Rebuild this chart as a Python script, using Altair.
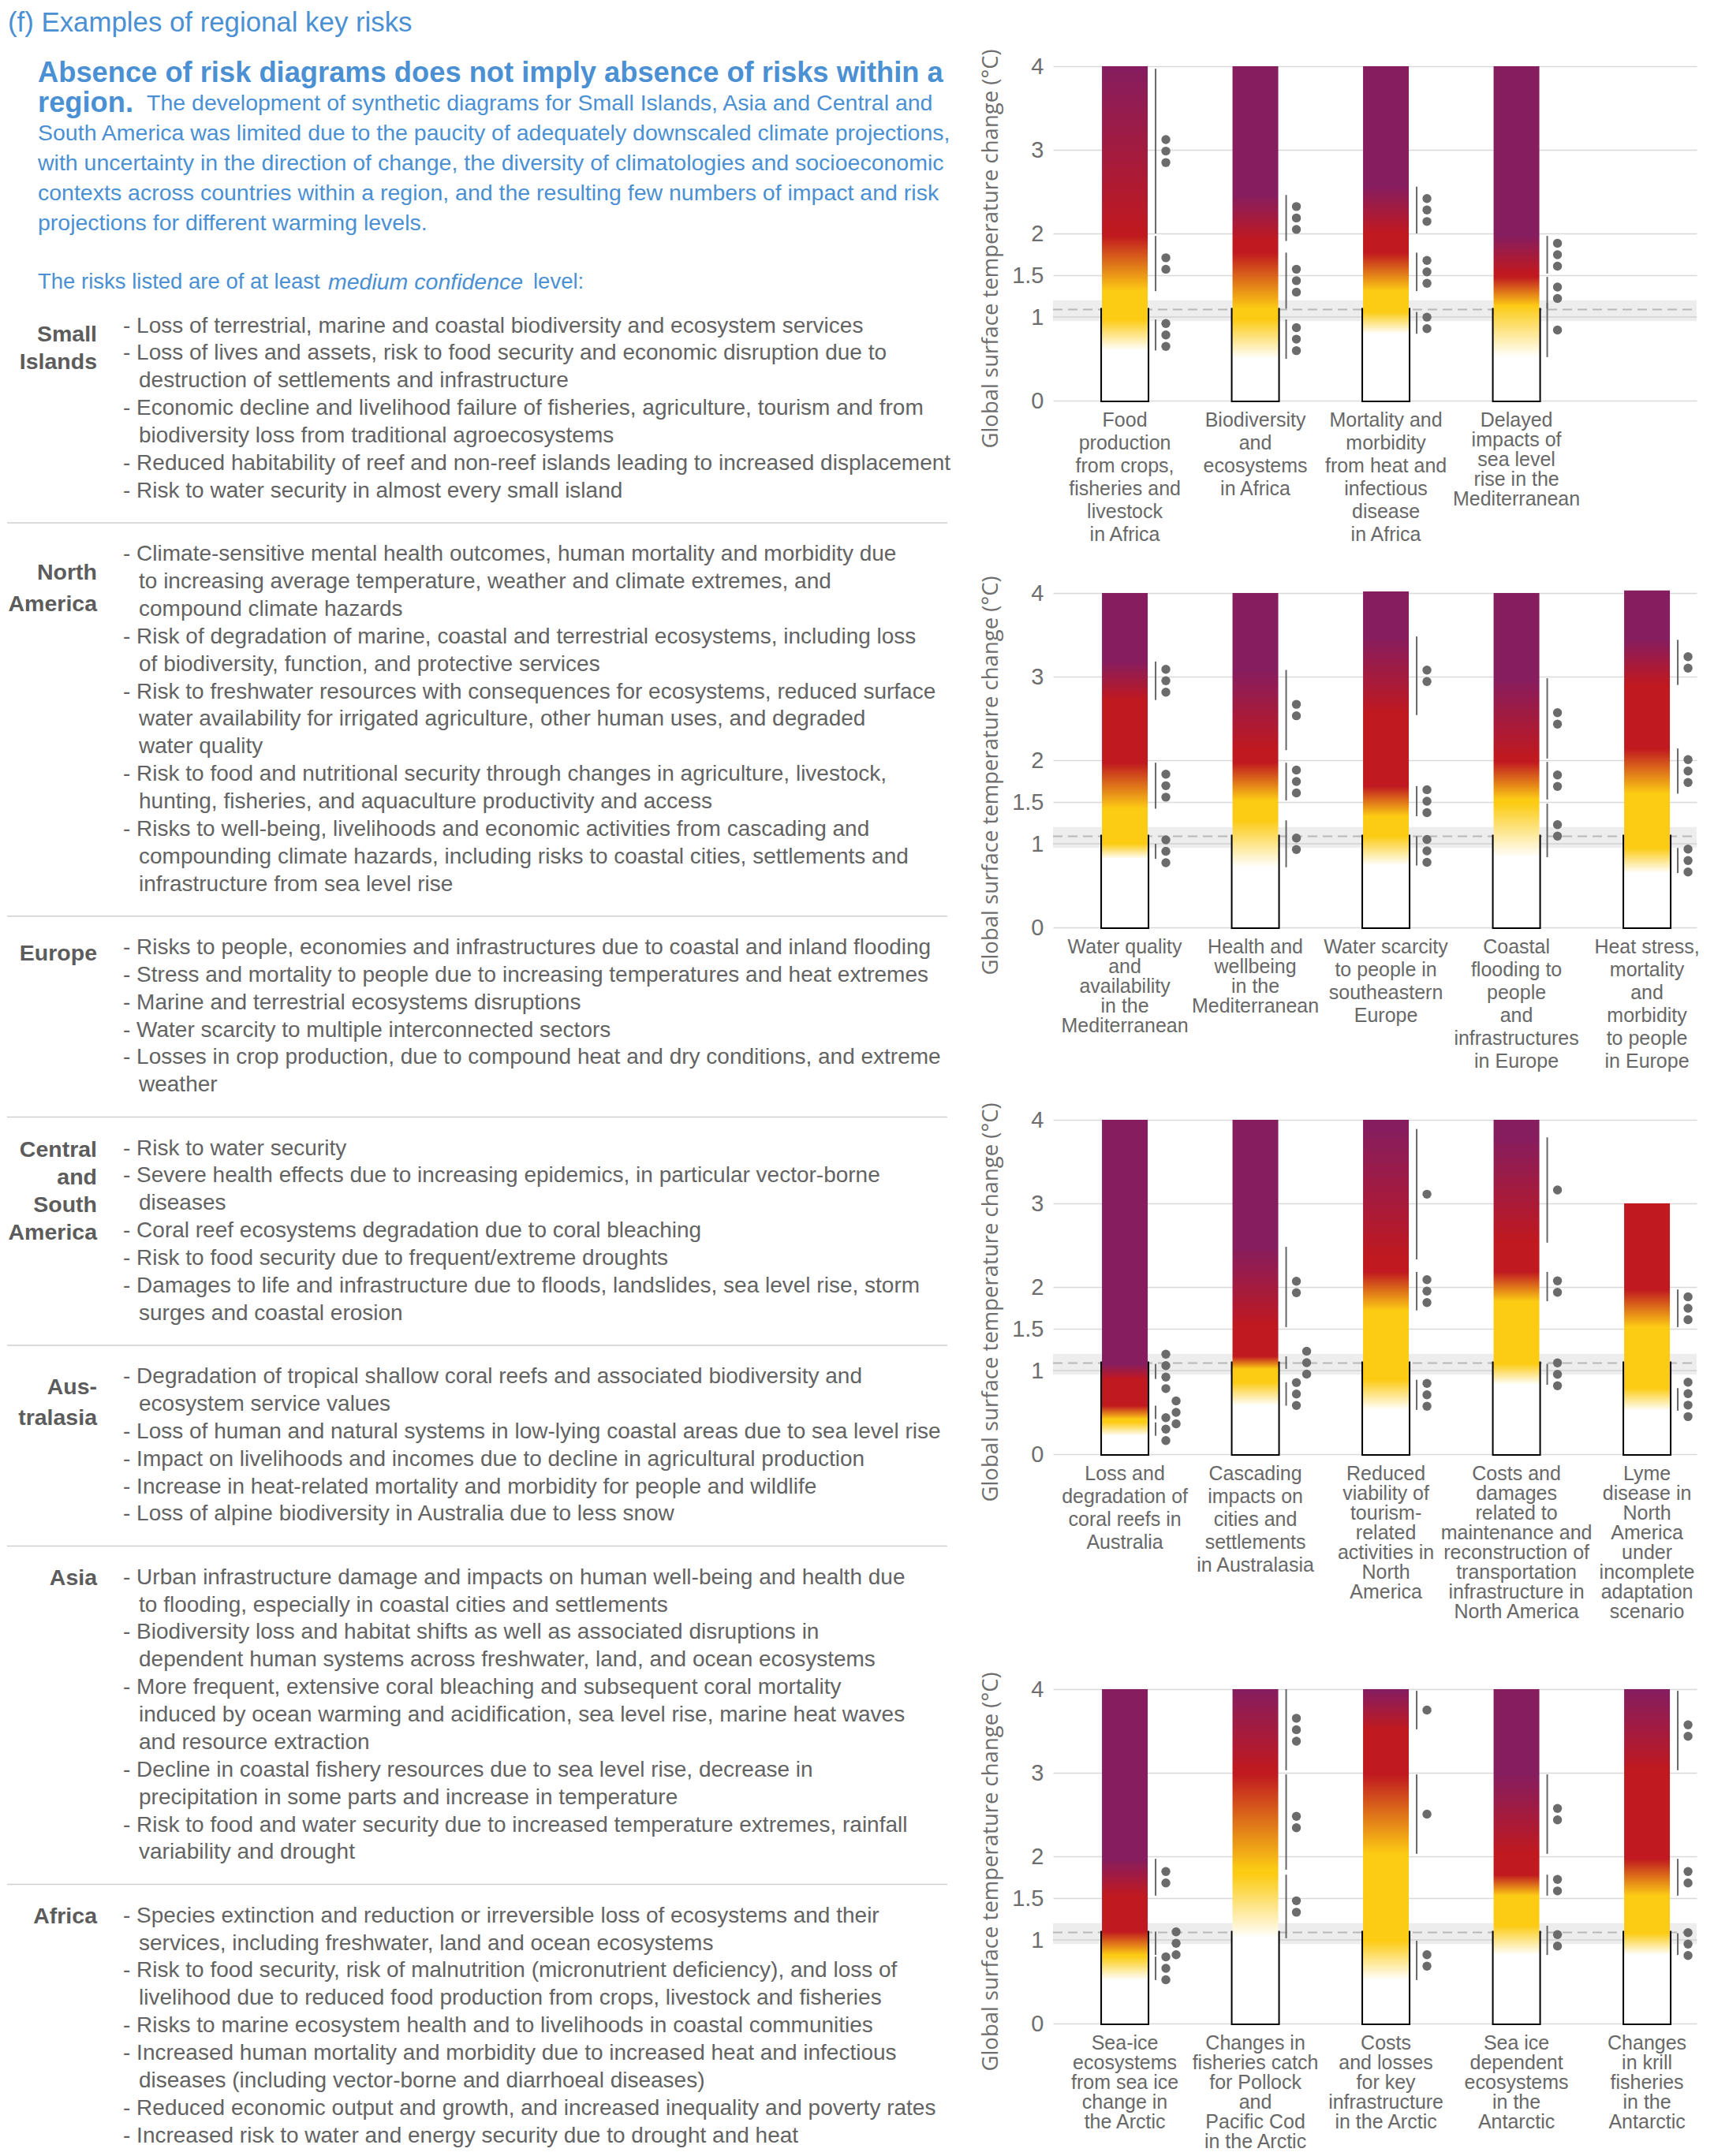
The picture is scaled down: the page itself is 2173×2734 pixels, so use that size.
import altair as alt
import pandas as pd

# ---------------- fonts / colours ----------------
SANS = "'Liberation Sans', Arial, sans-serif"
WIDE = "'Open Sans', 'Noto Sans', sans-serif"
BLUE = "#4a90d2"
TXT = "#636363"
LBL = "#5c5c5c"
WHITE, YELLOW, RED, PURPLE = "#ffffff", "#fccb14", "#c0191f", "#861d5f"

# ---------------- left panel text ----------------
title_text = "(f) Examples of regional key risks"
para_bold_1 = "Absence of risk diagrams does not imply absence of risks within a"
para_bold_2 = "region."
para_lines = [
    "The development of synthetic diagrams for Small Islands, Asia and Central and",
    "South America was limited due to the paucity of adequately downscaled climate projections,",
    "with uncertainty in the direction of change, the diversity of climatologies and socioeconomic",
    "contexts across countries within a region, and the resulting few numbers of impact and risk",
    "projections for different warming levels.",
]
conf_parts = ["The risks listed are of at least", "medium confidence", "level:"]

region_names = ["Small\nIslands", "North\nAmerica", "Europe", "Central\nand\nSouth\nAmerica",
                "Aus-\ntralasia", "Asia", "Africa"]

items_small_islands = [
    ["Loss of terrestrial, marine and coastal biodiversity and ecosystem services"],
    ["Loss of lives and assets, risk to food security and economic disruption due to",
     "destruction of settlements and infrastructure"],
    ["Economic decline and livelihood failure of fisheries, agriculture, tourism and from",
     "biodiversity loss from traditional agroecosystems"],
    ["Reduced habitability of reef and non-reef islands leading to increased displacement"],
    ["Risk to water security in almost every small island"],
]
items_north_america = [
    ["Climate-sensitive mental health outcomes, human mortality and morbidity due",
     "to increasing average temperature, weather and climate extremes, and",
     "compound climate hazards"],
    ["Risk of degradation of marine, coastal and terrestrial ecosystems, including loss",
     "of biodiversity, function, and protective services"],
    ["Risk to freshwater resources with consequences for ecosystems, reduced surface",
     "water availability for irrigated agriculture, other human uses, and degraded",
     "water quality"],
    ["Risk to food and nutritional security through changes in agriculture, livestock,",
     "hunting, fisheries, and aquaculture productivity and access"],
    ["Risks to well-being, livelihoods and economic activities from cascading and",
     "compounding climate hazards, including risks to coastal cities, settlements and",
     "infrastructure from sea level rise"],
]
items_europe = [
    ["Risks to people, economies and infrastructures due to coastal and inland flooding"],
    ["Stress and mortality to people due to increasing temperatures and heat extremes"],
    ["Marine and terrestrial ecosystems disruptions"],
    ["Water scarcity to multiple interconnected sectors"],
    ["Losses in crop production, due to compound heat and dry conditions, and extreme",
     "weather"],
]
items_csa = [
    ["Risk to water security"],
    ["Severe health effects due to increasing epidemics, in particular vector-borne",
     "diseases"],
    ["Coral reef ecosystems degradation due to coral bleaching"],
    ["Risk to food security due to frequent/extreme droughts"],
    ["Damages to life and infrastructure due to floods, landslides, sea level rise, storm",
     "surges and coastal erosion"],
]
items_australasia = [
    ["Degradation of tropical shallow coral reefs and associated biodiversity and",
     "ecosystem service values"],
    ["Loss of human and natural systems in low-lying coastal areas due to sea level rise"],
    ["Impact on livelihoods and incomes due to decline in agricultural production"],
    ["Increase in heat-related mortality and morbidity for people and wildlife"],
    ["Loss of alpine biodiversity in Australia due to less snow"],
]
items_asia = [
    ["Urban infrastructure damage and impacts on human well-being and health due",
     "to flooding, especially in coastal cities and settlements"],
    ["Biodiversity loss and habitat shifts as well as associated disruptions in",
     "dependent human systems across freshwater, land, and ocean ecosystems"],
    ["More frequent, extensive coral bleaching and subsequent coral mortality",
     "induced by ocean warming and acidification, sea level rise, marine heat waves",
     "and resource extraction"],
    ["Decline in coastal fishery resources due to sea level rise, decrease in",
     "precipitation in some parts and increase in temperature"],
    ["Risk to food and water security due to increased temperature extremes, rainfall",
     "variability and drought"],
]
items_africa = [
    ["Species extinction and reduction or irreversible loss of ecosystems and their",
     "services, including freshwater, land and ocean ecosystems"],
    ["Risk to food security, risk of malnutrition (micronutrient deficiency), and loss of",
     "livelihood due to reduced food production from crops, livestock and fisheries"],
    ["Risks to marine ecosystem health and to livelihoods in coastal communities"],
    ["Increased human mortality and morbidity due to increased heat and infectious",
     "diseases (including vector-borne and diarrhoeal diseases)"],
    ["Reduced economic output and growth, and increased inequality and poverty rates"],
    ["Increased risk to water and energy security due to drought and heat"],
]
region_items = [items_small_islands, items_north_america, items_europe, items_csa,
                items_australasia, items_asia, items_africa]

# ---------------- ember data ----------------
band_low, band_high, current_warming = 0.95, 1.20, 1.09
y_ticks = [0, 1, 1.5, 2, 3, 4]

r1_labels = ["Food\nproduction\nfrom crops,\nfisheries and\nlivestock\nin Africa",
             "Biodiversity\nand\necosystems\nin Africa",
             "Mortality and\nmorbidity\nfrom heat and\ninfectious\ndisease\nin Africa",
             "Delayed\nimpacts of\nsea level\nrise in the\nMediterranean"]
r1_tops = [4, 4, 4, 4]
r1_wy = [(0.60, 0.97, 3), (0.50, 0.97, 3), (0.80, 1.06, 2), (0.52, 1.17, 1)]
r1_yr = [(1.31, 1.97, 2), (1.10, 1.77, 3), (1.31, 1.77, 3), (1.10, 1.48, 2)]
r1_rp = [(2.00, 3.97, 3), (1.91, 2.46, 3), (2.00, 2.56, 3), (1.52, 1.97, 3)]

r2_labels = ["Water quality\nand\navailability\nin the\nMediterranean",
             "Health and\nwellbeing\nin the\nMediterranean",
             "Water scarcity\nto people in\nsoutheastern\nEurope",
             "Coastal\nflooding to\npeople\nand\ninfrastructures\nin Europe",
             "Heat stress,\nmortality\nand\nmorbidity\nto people\nin Europe"]
r2_tops = [4, 4, 4.02, 4, 4.03]
r2_wy = [(0.82, 1.00, 3), (0.72, 1.28, 2), (0.74, 1.09, 3), (0.84, 1.48, 2), (0.65, 0.95, 3)]
r2_yr = [(1.42, 1.97, 3), (1.52, 1.97, 3), (1.33, 1.69, 3), (1.53, 1.98, 2), (1.60, 2.14, 3)]
r2_rp = [(2.72, 3.18, 3), (2.12, 3.08, 2), (2.54, 3.48, 2), (2.02, 2.98, 2), (2.90, 3.44, 2)]

r3_labels = ["Loss and\ndegradation of\ncoral reefs in\nAustralia",
             "Cascading\nimpacts on\ncities and\nsettlements\nin Australasia",
             "Reduced\nviability of\ntourism-\nrelated\nactivities in\nNorth\nAmerica",
             "Costs and\ndamages\nrelated to\nmaintenance and\nreconstruction of\ntransportation\ninfrastructure in\nNorth America",
             "Lyme\ndisease in\nNorth\nAmerica\nunder\nincomplete\nadaptation\nscenario"]
r3_tops = [4, 4, 4, 4, 3]
r3_wy = [(0.22, 0.38, 3), (0.58, 0.86, 3), (0.53, 0.89, 3), (0.83, 1.08, 3), (0.52, 0.79, 4)]
r3_yr = [(0.42, 0.58, 3), (1.02, 1.17, 3), (1.72, 2.18, 3), (1.83, 2.18, 2), (1.52, 1.97, 3)]
r3_rp = [(0.90, 1.08, 4), (1.52, 2.48, 2), (2.33, 3.89, 1), (2.53, 3.79, 1), None]

r4_labels = ["Sea-ice\necosystems\nfrom sea ice\nchange in\nthe Arctic",
             "Changes in\nfisheries catch\nfor Pollock\nand\nPacific Cod\nin the Arctic",
             "Costs\nand losses\nfor key\ninfrastructure\nin the Arctic",
             "Sea ice\ndependent\necosystems\nin the\nAntarctic",
             "Changes\nin krill\nfisheries\nin the\nAntarctic"]
r4_tops = [4, 4, 4, 4, 4]
r4_wy = [(0.52, 0.80, 3), (1.02, 1.78, 2), (0.52, 0.99, 2), (0.82, 1.17, 2), (0.82, 1.08, 3)]
r4_yr = [(0.82, 1.10, 3), (1.84, 2.98, 2), (2.03, 2.98, 1), (1.53, 1.78, 2), (1.53, 1.97, 2)]
r4_rp = [(1.53, 1.97, 2), (3.03, 4.00, 3), (3.52, 3.98, 1), (2.03, 2.98, 2), (3.03, 3.98, 2)]

# ---------------- layout / style (not data) ----------------
ROW_W, ROW_H = 816, 424
PX_PER_DEG = ROW_H / 4
ROW_SPACING = 244
ROW_EXTRA_TOP = [0, 0, 0, 54]          # extra room above the 4 °C line (px)
BAR_W = 58
LINE_DX, DOT_DX0, DOT_DX1 = 39, 52, 65
DOT_STEP = 0.137
X_DOMAIN = [-0.52, 4.35]
tight_rows = [[False, False, False, True],
              [True, True, False, False, False],
              [False, False, True, True, True],
              [True, True, True, True, True]]
second_dot_column = {(3, 0, "yr"), (3, 1, "yr"), (4, 0, "yr")}

LEFT_W, LEFT_H = 1200, 2481
LINE_PX = 34.88
POS_TOP = -9.45
POS_BOTTOM = POS_TOP + LEFT_H / LINE_PX
SECTION_GAP = 1.3
TOP_PAD = 4
label_offset = [0.3, 0.65, 0.2, 0.05, 0.36, 0.0, 0.0]
label_step = [1.0, 1.15, 1.0, 1.0, 1.14, 1.0, 1.0]


# ---------------- left chart ----------------
ysc_left = alt.Scale(domain=[POS_TOP, POS_BOTTOM], reverse=True, nice=False, zero=False)


def ytext():
    return alt.Y("pos:Q", scale=ysc_left, axis=None)


def text_layer(df, x, size, color, weight="normal", style="normal", align="left", font=SANS):
    return alt.Chart(df).mark_text(
        align=align, baseline="middle", font=font, fontSize=size, color=color,
        fontWeight=weight, fontStyle=style
    ).encode(x=alt.value(x), y=ytext(), text="text:N")


first_rows, cont_rows, label_rows, sep_rows = [], [], [], []
line_idx = 0
for k, items in enumerate(region_items):
    start = line_idx + SECTION_GAP * k
    for j, nm in enumerate(region_names[k].split("\n")):
        label_rows.append({"text": nm, "pos": start + label_offset[k] + j * label_step[k]})
    for item in items:
        for j, ln in enumerate(item):
            p = line_idx + SECTION_GAP * k
            if j == 0:
                first_rows.append({"text": "- " + ln, "pos": p})
            else:
                cont_rows.append({"text": ln, "pos": p})
            line_idx += 1
    if k < len(region_items) - 1:
        sep_rows.append({"pos": line_idx - 1 + SECTION_GAP * k + 1.15})

para_pos = [-8.1 + 1.09 * i for i in range(5)]
df_title = pd.DataFrame({"text": [title_text], "pos": [-11.1 + TOP_PAD / LINE_PX]})
df_b1 = pd.DataFrame({"text": [para_bold_1], "pos": [-9.2]})
df_b2 = pd.DataFrame({"text": [para_bold_2], "pos": [para_pos[0]]})
df_p_first = pd.DataFrame({"text": [para_lines[0]], "pos": [para_pos[0]]})
df_p_rest = pd.DataFrame({"text": para_lines[1:], "pos": para_pos[1:]})
df_c1 = pd.DataFrame({"text": [conf_parts[0]], "pos": [-1.6]})
df_c2 = pd.DataFrame({"text": [conf_parts[1]], "pos": [-1.6]})
df_c3 = pd.DataFrame({"text": [conf_parts[2]], "pos": [-1.6]})

left_layers = [
    alt.Chart(pd.DataFrame(sep_rows)).mark_rule(color="#cfcfcf", strokeWidth=1.5).encode(
        y=ytext(), x=alt.value(0), x2=alt.value(1192)),
    text_layer(df_title, 1, 34.8, BLUE),
    text_layer(df_b1, 39, 36.3, BLUE, weight="bold"),
    text_layer(df_b2, 39, 36.3, BLUE, weight="bold"),
    text_layer(df_p_first, 177, 28.5, BLUE),
    text_layer(df_p_rest, 39, 28.5, BLUE),
    text_layer(df_c1, 39, 27.5, BLUE),
    text_layer(df_c2, 407, 28.5, BLUE, style="italic"),
    text_layer(df_c3, 667, 27.5, BLUE),
    text_layer(pd.DataFrame(label_rows), 114, 28.5, LBL, weight="bold", align="right"),
    text_layer(pd.DataFrame(first_rows), 147, 28, TXT),
    text_layer(pd.DataFrame(cont_rows), 167, 28, TXT),
]
left = alt.layer(*left_layers).properties(width=LEFT_W, height=LEFT_H)


# ---------------- ember rows ----------------
xsc = alt.Scale(domain=X_DOMAIN, nice=False, zero=False)


def X():
    return alt.X("idx:Q", scale=xsc, axis=None)


def make_y(extra_px):
    top = 4 + extra_px / PX_PER_DEG
    sc = alt.Scale(domain=[0, top], nice=False, zero=False)
    ax = alt.Axis(values=y_ticks, format=".1~f", grid=True, gridColor="#d9d9d9", gridWidth=1.5,
                  domain=False, ticks=False, labelFont=SANS, labelFontSize=29,
                  labelColor="#6e6e6e", labelPadding=12,
                  title="Global surface temperature change (°C)", titleFont=WIDE,
                  titleFontSize=27.5, titleFontWeight="normal", titleColor="#6e6e6e",
                  titlePadding=12, titleY=extra_px + ROW_H / 2 + 19)

    def Yq(field):
        return alt.Y(field, type="quantitative", scale=sc, axis=ax)
    return Yq


def gradient_for(top, trans):
    cols = [(WHITE, YELLOW), (YELLOW, RED), (RED, PURPLE)]
    segs = [[t[0], t[1], c[0], c[1]] for t, c in zip(trans, cols) if t is not None]
    for a, b in zip(segs, segs[1:]):
        if b[0] < a[1]:
            m = (a[1] + b[0]) / 2
            a[1] = m
            b[0] = m
    stops = [(0.0, WHITE)]
    for s, e, c0, c1 in segs:
        stops.append((s / top, c0))
        stops.append((e / top, c1))
    stops.append((1.0, segs[-1][3]))
    out, last = [], 0.0
    for off, c in stops:
        off = min(1.0, max(last, off))
        last = off
        out.append(alt.GradientStop(offset=off, color=c))
    return alt.Gradient(gradient="linear", stops=out, x1=0, x2=0, y1=1, y2=0)


def build_row(rownum, labels, tops, wy, yr, rp):
    n = len(labels)
    extra = ROW_EXTRA_TOP[rownum - 1]
    height = ROW_H + extra
    Yq = make_y(extra)
    tight = tight_rows[rownum - 1]
    bars = pd.DataFrame({"idx": list(range(n)), "zero": [0.0] * n, "top": tops,
                         "now": [current_warming] * n, "label": labels, "tight": tight})
    trans_rows, dot_rows = [], []
    for i in range(n):
        for kind, t in (("wy", wy[i]), ("yr", yr[i]), ("rp", rp[i])):
            if t is None:
                continue
            s, e, cnt = t
            trans_rows.append({"idx": i, "start": s, "end": e})
            col = 1 if (rownum, i, kind) in second_dot_column else 0
            mid = (s + e) / 2
            for d in range(cnt):
                dot_rows.append({"idx": i, "y": mid + (d - (cnt - 1) / 2) * DOT_STEP, "col": col})
    trans = pd.DataFrame(trans_rows)
    dots = pd.DataFrame(dot_rows)

    layers = [
        alt.Chart(pd.DataFrame({"lo": [band_low], "hi": [band_high]})).mark_rect(
            color="#ededed").encode(y=Yq("lo"), y2="hi:Q",
                                    x=alt.value(0), x2=alt.value(ROW_W)),
        alt.Chart(pd.DataFrame({"lo": [1.0]})).mark_rule(color="#d2d2d2", strokeWidth=1.5).encode(
            y=Yq("lo"), x=alt.value(0), x2=alt.value(ROW_W)),
        alt.Chart(pd.DataFrame({"lo": [current_warming]})).mark_rule(
            color="#b8b8b8", strokeWidth=2, strokeDash=[12, 7]).encode(
            y=Yq("lo"), x=alt.value(0), x2=alt.value(ROW_W)),
        alt.Chart(bars).mark_bar(width=BAR_W, orient="vertical", fill="white", stroke="black",
                                 strokeWidth=4).encode(x=X(), y=Yq("zero"), y2="now:Q"),
    ]
    for i in range(n):
        g = gradient_for(tops[i], (wy[i], yr[i], rp[i]))
        layers.append(alt.Chart(bars.iloc[[i]]).mark_bar(
            width=BAR_W, orient="vertical", color=g).encode(x=X(), y=Yq("zero"), y2="top:Q"))
    layers.append(alt.Chart(trans).mark_rule(xOffset=LINE_DX, color="#666666", strokeWidth=2).encode(
        x=X(), y=Yq("start"), y2="end:Q"))
    for col, dx in ((0, DOT_DX0), (1, DOT_DX1)):
        sub = dots[dots["col"] == col]
        if len(sub):
            layers.append(alt.Chart(sub).mark_circle(
                xOffset=dx, size=130, color="#6b6b6b", opacity=1).encode(x=X(), y=Yq("y")))
    for flag, lh in ((False, 29), (True, 25)):
        sub = bars[bars["tight"] == flag]
        if len(sub):
            layers.append(alt.Chart(sub).mark_text(
                align="center", baseline="top", lineBreak="\n", lineHeight=lh, font=SANS,
                fontSize=25, color="#686868").encode(
                x=X(), y=alt.value(height + 13), text="label:N"))
    return alt.layer(*layers).properties(width=ROW_W, height=height)


row1 = build_row(1, r1_labels, r1_tops, r1_wy, r1_yr, r1_rp)
row2 = build_row(2, r2_labels, r2_tops, r2_wy, r2_yr, r2_rp)
row3 = build_row(3, r3_labels, r3_tops, r3_wy, r3_yr, r3_rp)
row4 = build_row(4, r4_labels, r4_tops, r4_wy, r4_yr, r4_rp)

right = alt.vconcat(row1, row2, row3, row4, spacing=ROW_SPACING, bounds="flush")

chart = alt.hconcat(left, right, spacing=126, bounds="flush").properties(
    padding={"top": TOP_PAD, "left": 0, "right": 0, "bottom": 0}).configure_view(strokeWidth=0)

chart.save("out.html", embed_options={"renderer": "svg", "actions": False})
